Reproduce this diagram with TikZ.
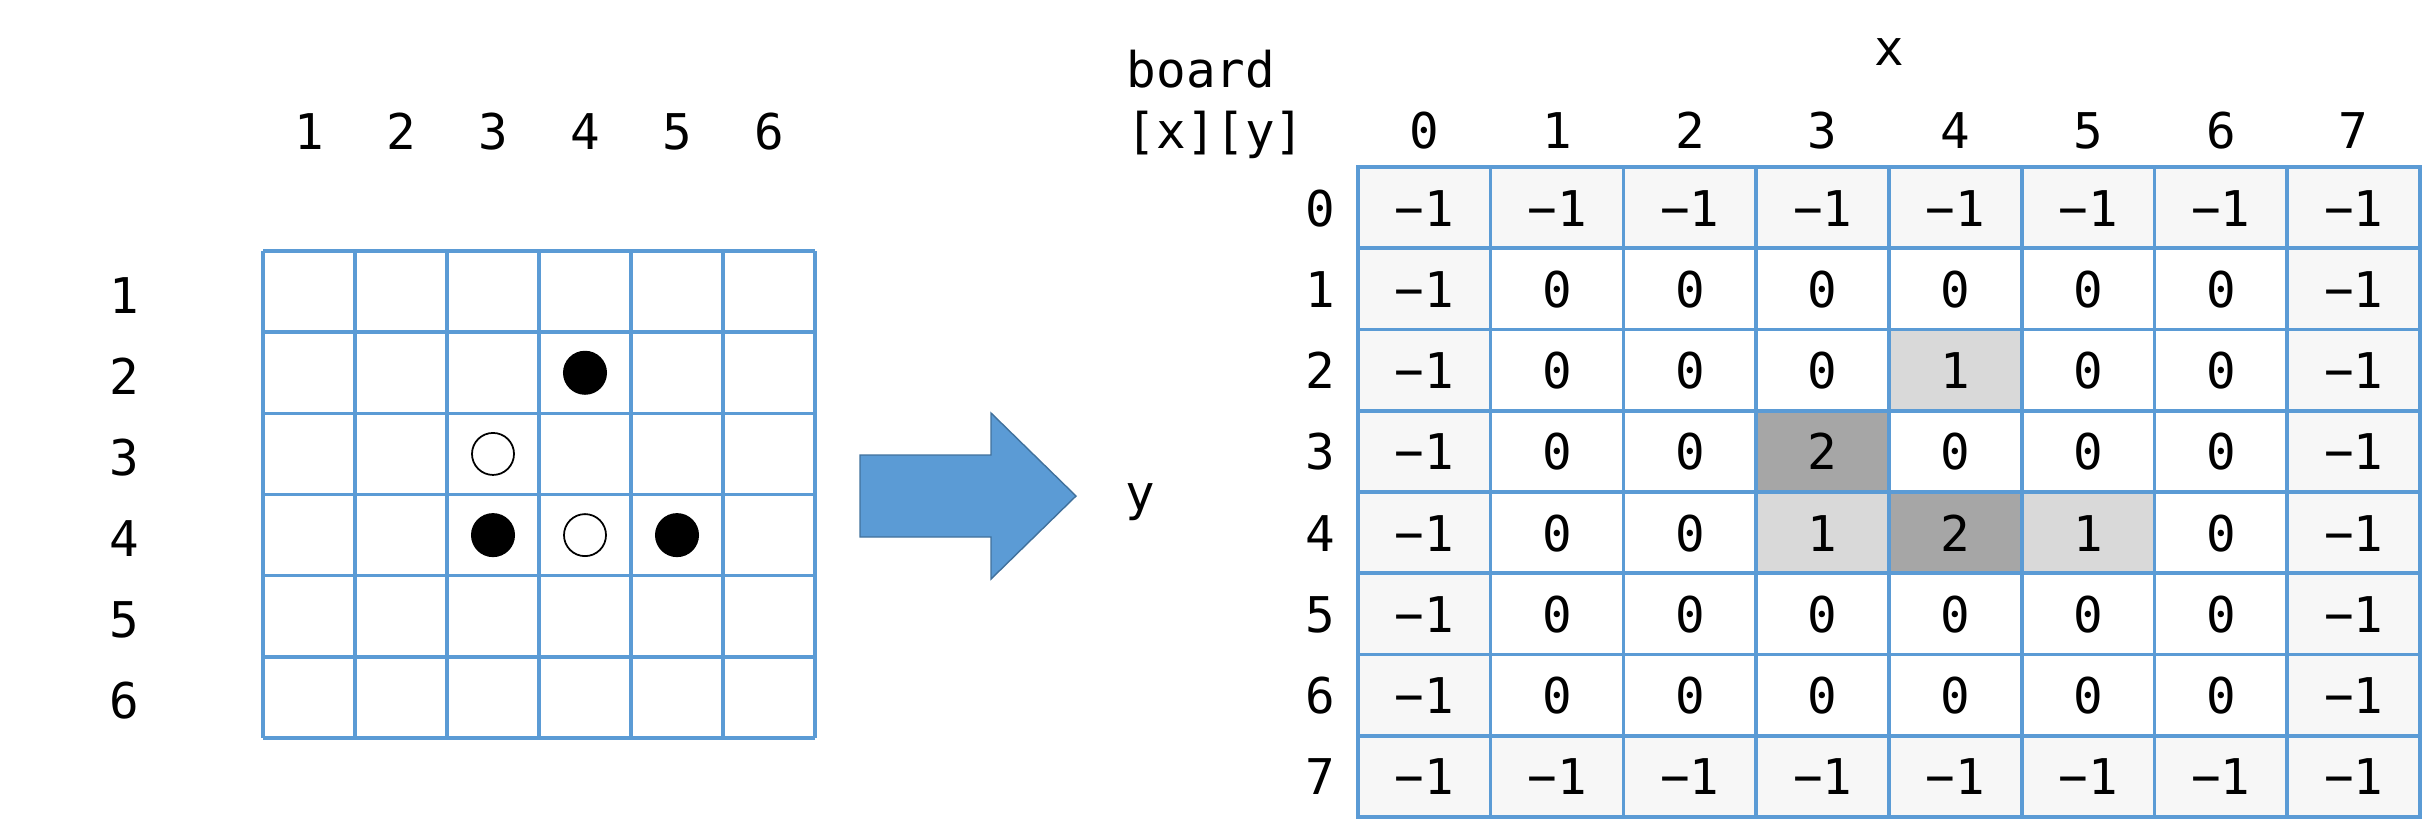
\documentclass[tikz,border=0pt]{standalone}
\usepackage{fontspec}
\setmonofont{DejaVu Sans Mono}
\usepackage{tikz}
\usepackage{xcolor}
\definecolor{gridblue}{RGB}{91,155,213}
\definecolor{arrowedge}{RGB}{65,113,156}
\definecolor{edgegray}{RGB}{247,247,247}
\definecolor{onegray}{RGB}{217,217,217}
\definecolor{twogray}{RGB}{166,166,166}
\tikzset{
  lbl/.style={font=\ttfamily\fontsize{14}{16}\selectfont, inner sep=0pt, text height=0.37cm, text depth=0pt},
  boardline/.style={gridblue, line width=1pt},
  cellbox/.style={lbl, draw=gridblue, line width=1pt, minimum width=1.3275cm, minimum height=0.8125cm},
  blackstone/.style={circle, fill=black, minimum size=0.44cm, inner sep=0pt},
  whitestone/.style={circle, draw=black, fill=white, line width=0.5pt, minimum size=0.42cm, inner sep=0pt}
}

\begin{document}
\begin{tikzpicture}[x=0.01cm, y=-0.01cm]
  \useasboundingbox (0,0) rectangle (2425,838);
  % Board (left)
  \foreach \i in {0,...,6} {
    \draw[boardline] ({263+92*\i},251) -- ({263+92*\i},738);
    \draw[boardline] (263,{251+81.17*\i}) -- (815,{251+81.17*\i});
  }
  \foreach \n in {1,...,6} {
    \node[lbl] (col\n) at ({263+92*(\n-0.5)},131) {\n};
    \node[lbl] (row\n) at (124,{254+81.17*(\n-0.5)}) {\n};
  }
  % Stones
  \foreach \c/\r in {4/2, 3/4, 5/4}
    \node[blackstone] (stone\c\r) at ({263+92*(\c-0.5)},{251+81.17*(\r-0.5)}) {};
  \foreach \c/\r in {3/3, 4/4}
    \node[whitestone] (stone\c\r) at ({263+92*(\c-0.5)},{251+81.17*(\r-0.5)}) {};
  % Arrow
  \fill[gridblue, draw=arrowedge, line width=0.4pt] (860,455) -- (991,455) -- (991,413)
    -- (1076,496) -- (991,579) -- (991,537) -- (860,537) -- cycle;
  \node[lbl] (ylab) at (1140,492) {y};
  % board[x][y] (right)
  \node[lbl, anchor=west] (name1) at (1126,69) {board};
  \node[lbl, anchor=west] (name2) at (1126,130) {[x][y]};
  \node[lbl] (xlab) at (1889,47) {x};
  \foreach \c in {0,...,7}
    \node[lbl] (head\c) at ({1358+132.75*(\c+0.5)},130) {\c};
  \foreach \vals [count=\r from 0] in {
      {-1,-1,-1,-1,-1,-1,-1,-1}, {-1,0,0,0,0,0,0,-1},
      {-1,0,0,0,1,0,0,-1},       {-1,0,0,2,0,0,0,-1},
      {-1,0,0,1,2,1,0,-1},       {-1,0,0,0,0,0,0,-1},
      {-1,0,0,0,0,0,0,-1},       {-1,-1,-1,-1,-1,-1,-1,-1}} {
    \node[lbl] (side\r) at (1320,{167+81.25*(\r+0.5)}) {\r};
    \foreach \v [count=\c from 0] in \vals {
      \ifnum\v<0 \def\cellfill{edgegray}\else\ifnum\v=1 \def\cellfill{onegray}%
      \else\ifnum\v=2 \def\cellfill{twogray}\else\def\cellfill{white}\fi\fi\fi
      \node[cellbox, fill=\cellfill] (cell\c\r) at ({1358+132.75*(\c+0.5)},{167+81.25*(\r+0.5)})
        {\ifnum\v<0 −1\else\v\fi};
    }
  }
\end{tikzpicture}
\end{document}
